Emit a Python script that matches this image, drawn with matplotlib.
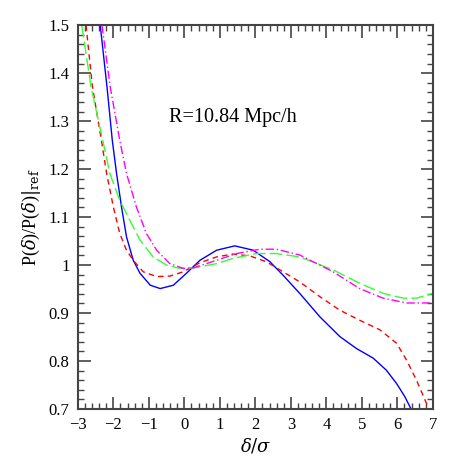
from matplotlib import pyplot as plt
from matplotlib.ticker import MultipleLocator
import numpy as np

# ratio curves
x_blue = [-2.37, -2.18, -2.03, -1.91, -1.77, -1.63, -1.44, -1.25, -0.96, -0.68, -0.31, 0.06, 0.44, 0.91, 1.42,
          1.94, 2.41, 2.78, 3.25, 3.82, 4.38, 4.85, 5.32, 5.69, 5.98, 6.21, 6.38, 6.42]
y_blue = [1.50, 1.372, 1.26, 1.191, 1.121, 1.059, 1.010, 0.983, 0.958, 0.951, 0.958, 0.983, 1.010, 1.031, 1.040,
          1.031, 1.007, 0.979, 0.941, 0.892, 0.851, 0.826, 0.806, 0.781, 0.753, 0.726, 0.701, 0.693]

x_red = [-2.77, -2.59, -2.33, -2.19, -2.00, -1.82, -1.63, -1.44, -1.16, -0.78, -0.41, -0.03, 0.44, 0.91, 1.37,
         1.85, 2.31, 2.78, 3.25, 3.82, 4.38, 4.94, 5.51, 5.98, 6.26, 6.54, 6.82, 6.90]
y_red = [1.50, 1.372, 1.257, 1.191, 1.121, 1.066, 1.031, 1.010, 0.986, 0.976, 0.977, 0.986, 1.005, 1.017, 1.023,
         1.019, 1.007, 0.986, 0.965, 0.934, 0.906, 0.885, 0.865, 0.837, 0.802, 0.760, 0.712, 0.697]

x_green = [-2.89, -2.63, -2.29, -2.10, -1.82, -1.54, -1.25, -0.88, -0.50, -0.13, 0.25, 0.91, 1.37, 2.03, 2.59,
           3.25, 4.19, 4.94, 5.60, 6.17, 6.54, 7.00]
y_green = [1.50, 1.372, 1.257, 1.191, 1.135, 1.094, 1.052, 1.017, 1.000, 0.993, 0.994, 1.003, 1.014, 1.024, 1.024,
           1.017, 0.990, 0.962, 0.941, 0.931, 0.931, 0.941]

x_mag = [-2.32, -2.09, -1.82, -1.63, -1.35, -1.07, -0.78, -0.41, -0.03, 0.25, 0.91, 1.47, 2.13, 2.59, 3.25,
         4.19, 4.94, 5.60, 6.26, 7.00]
y_mag = [1.50, 1.372, 1.26, 1.191, 1.121, 1.066, 1.031, 1.003, 0.993, 0.994, 1.010, 1.024, 1.033, 1.033, 1.021,
         0.986, 0.951, 0.931, 0.921, 0.921]

label_text = "R=10.84 Mpc/h"


def plot_ratio():
    plt.rcParams['font.family'] = ['Liberation Serif', 'DejaVu Serif']
    plt.rcParams['mathtext.fontset'] = 'dejavuserif'

    fig = plt.figure(figsize=(4.58, 4.58), dpi=100)
    ax = fig.add_axes([0.170, 0.107, 0.775, 0.838])

    ax.plot(x_blue, y_blue, color="blue", lw=1.0)
    ax.plot(x_red, y_red, color="red", lw=1.0, dashes=(4, 3))
    ax.plot(x_green, y_green, color="#33ff33", lw=1.0, dashes=(9, 3))
    ax.plot(x_mag, y_mag, color="magenta", lw=1.0, dashes=(6, 2, 1, 2))

    ax.set_xlim(-3, 7)
    ax.set_ylim(0.7, 1.5)
    ax.xaxis.set_major_locator(MultipleLocator(1))
    ax.xaxis.set_minor_locator(MultipleLocator(0.2))
    ax.yaxis.set_minor_locator(MultipleLocator(0.02))
    ax.set_yticks([0.7, 0.8, 0.9, 1.0, 1.1, 1.2, 1.3, 1.4, 1.5])
    ax.set_yticklabels(["0.7", "0.8", "0.9", "1", "1.1", "1.2", "1.3", "1.4", "1.5"])

    ax.tick_params(which="both", direction="in", top=True, right=True, color="#444444", labelsize=12)
    ax.tick_params(which="major", length=9, width=1.2, pad=6)
    ax.tick_params(which="minor", length=4.5, width=1.0)
    for sp in ax.spines.values():
        sp.set_color("#444444")
        sp.set_linewidth(1.5)

    ax.set_xlabel(r"$\delta/\sigma$", fontsize=13, labelpad=2)
    ax.set_ylabel(r"P($\delta$)/P($\delta$)$|_{\rm ref}$", fontsize=13, labelpad=4)

    ax.text(1.37, 1.308, label_text, ha="center", va="center", fontsize=14.5)

    plt.savefig("out.png", dpi=100)
    plt.close()


if __name__ == "__main__":
    plot_ratio()
